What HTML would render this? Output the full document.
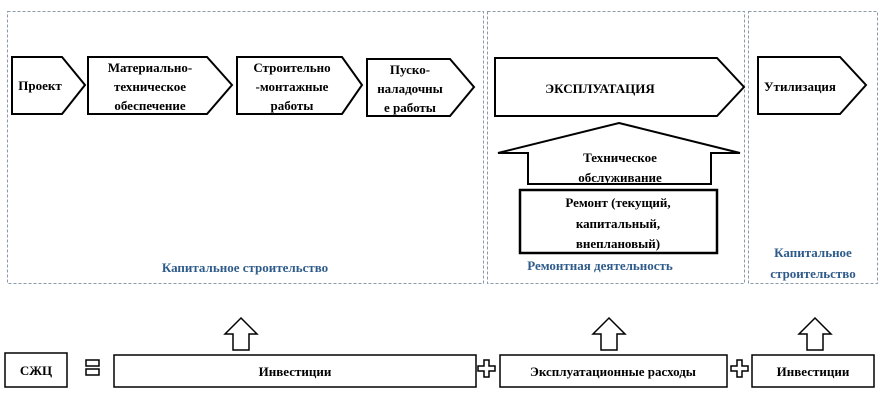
<!DOCTYPE html>
<html><head><meta charset="utf-8"><style>
body{margin:0;background:#fff;width:881px;height:403px;overflow:hidden}
svg text{font-family:"Liberation Serif",serif;font-weight:bold;fill:#000}
</style></head><body>
<svg width="881" height="403" viewBox="0 0 881 403" xmlns="http://www.w3.org/2000/svg">
<g fill="none" stroke="#8a9aab" stroke-width="1" stroke-dasharray="3,2">
<rect x="7.5" y="11.5" width="476" height="272"/>
<rect x="487.5" y="11.5" width="257" height="272"/>
<rect x="748.5" y="11.5" width="129" height="272"/>
</g>
<g fill="#fff" stroke="#000" stroke-width="2">
<polygon points="12,57 62,57 85,85 62,114 12,114"/>
<polygon points="88,57 207,57 232,85 207,114 88,114"/>
<polygon points="237,57 342,57 362,85 342,114 237,114"/>
<polygon points="367,59 450,59 474,87 450,116 367,116"/>
<polygon points="495,58 717,58 744,87 717,116 495,116"/>
<polygon points="758,57 840,57 866,85 840,114 758,114"/>
<polygon points="619,123 740,153 711,153 711,184 528,184 528,153 498,153"/>
<rect x="520" y="190" width="197" height="63" stroke-width="2.5"/>
</g>
<g font-size="13" text-anchor="middle">
<text x="40" y="90">Проект</text>
<text x="150" y="72">Материально-</text>
<text x="150" y="91">техническое</text>
<text x="150" y="110">обеспечение</text>
<text x="292" y="72">Строительно</text>
<text x="292" y="91">-монтажные</text>
<text x="292" y="110">работы</text>
<text x="410" y="74">Пуско-</text>
<text x="410" y="93">наладочны</text>
<text x="410" y="112">е работы</text>
<text x="600" y="93">ЭКСПЛУАТАЦИЯ</text>
<text x="800" y="91">Утилизация</text>
<text x="620" y="162">Техническое</text>
<text x="620" y="182">обслуживание</text>
<text x="618" y="207">Ремонт (текущий,</text>
<text x="618" y="228">капитальный,</text>
<text x="618" y="248">внеплановый)</text>
</g>
<g font-size="13" text-anchor="middle" style="fill:#2e5b8a">
<text x="245" y="272" style="fill:#2e5b8a">Капитальное строительство</text>
<text x="600" y="270" style="fill:#2e5b8a">Ремонтная деятельность</text>
<text x="813" y="257" style="fill:#2e5b8a">Капитальное</text>
<text x="813" y="278" style="fill:#2e5b8a">строительство</text>
</g>
<g fill="#fff" stroke="#000" stroke-width="1.5">
<rect x="5" y="353" width="62" height="34"/>
<rect x="114" y="355" width="362" height="32"/>
<rect x="500" y="355" width="227" height="32"/>
<rect x="752" y="355" width="122" height="32"/>
<polygon points="241,318 257,334 249,334 249,350 233,350 233,334 225,334"/>
<polygon points="609,318 625,334 617,334 617,350 601,350 601,334 593,334"/>
<polygon points="815,318 831,334 823,334 823,350 807,350 807,334 799,334"/>
<rect x="86" y="360" width="13" height="6"/>
<rect x="86" y="369" width="13" height="6"/>
<polygon points="484,360 489,360 489,366 495,366 495,371 489,371 489,377 484,377 484,371 478,371 478,366 484,366"/>
<polygon points="737,360 742,360 742,366 748,366 748,371 742,371 742,377 737,377 737,371 731,371 731,366 737,366"/>
</g>
<g font-size="13" text-anchor="middle">
<text x="36" y="375">СЖЦ</text>
<text x="295" y="376">Инвестиции</text>
<text x="613" y="376">Эксплуатационные расходы</text>
<text x="813" y="376">Инвестиции</text>
</g>
</svg>
</body></html>
